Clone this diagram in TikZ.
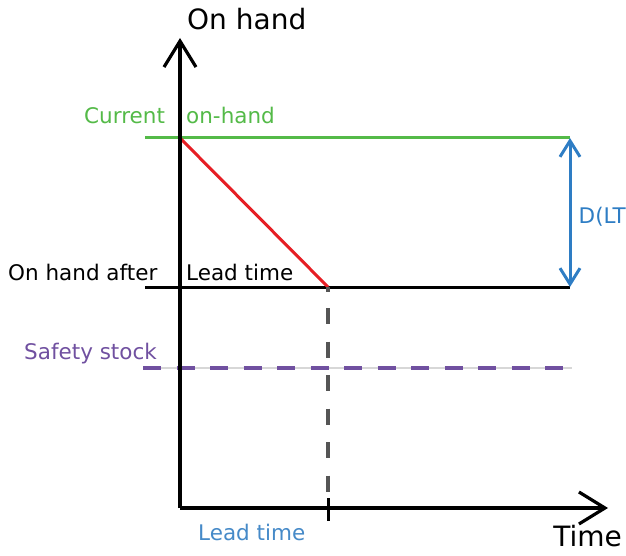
\documentclass[tikz,border=0pt]{standalone}
\usepackage{fontspec}
\setmainfont{DejaVu Sans}
\usetikzlibrary{arrows.meta}
\definecolor{cgreen}{RGB}{84,186,72}
\definecolor{cred}{RGB}{230,30,36}
\definecolor{cblue}{RGB}{46,125,196}
\definecolor{cbluetext}{RGB}{70,138,200}
\definecolor{cpurple}{RGB}{112,80,160}
\definecolor{cgraydash}{RGB}{85,85,85}
\definecolor{clight}{RGB}{215,215,215}
\tikzset{
  lbl/.style={anchor=base west, inner sep=0pt, font=\fontsize{21.5}{24}\selectfont},
  big/.style={anchor=base west, inner sep=0pt, font=\fontsize{28}{30}\selectfont},
  axis/.style={line width=3.2pt, -{Straight Barb[length=26pt, width=32pt, line width=3.2pt]}},
  level/.style={line width=3pt}
}
\begin{document}
\begin{tikzpicture}[x=1pt, y=-1pt]
\useasboundingbox (0,0) rectangle (626,556);
% key points
\coordinate (O) at (180,508);
\coordinate (Ytop) at (180,38);
\coordinate (Xend) at (608,508);
\coordinate (Gl) at (145,138);
\coordinate (Gr) at (570,138);
\coordinate (Bl) at (145,287);
\coordinate (Br) at (570,287);
\coordinate (Rs) at (180,138);
\coordinate (Re) at (328,287);
\coordinate (Sl) at (143,368);
\coordinate (Sr) at (572,368);
\coordinate (Vd1) at (328,308);
\coordinate (Vd2) at (328,494);
\coordinate (T1) at (328,498);
\coordinate (T2) at (328,521);

% safety stock
\draw[clight, line width=2pt] (Sl) -- (Sr);
\draw[cpurple, line width=4.5pt, dash pattern=on 18pt off 15.5pt] (Sl) -- (Sr);

% levels
\draw[cgreen, level] (Gl) -- (Gr);
\draw[black, level] (Bl) -- (Br);
\draw[cred, line width=3pt] (Rs) -- (Re);
\draw[cgraydash, line width=3.5pt] (328,287) -- (328,292);
\draw[cgraydash, line width=3.5pt, dash pattern=on 16pt off 17.5pt] (Vd1) -- (Vd2);

% axes
\draw[axis] (O) -- (Ytop);
\draw[axis] (O) -- (Xend);
\draw[line width=3pt] (T1) -- (T2);

% D(LT) arrow
\draw[cblue, line width=3pt, {Straight Barb[length=16pt, width=20pt, line width=3pt]}-{Straight Barb[length=16pt, width=20pt, line width=3pt]}] (Gr) -- (Br);

% texts
\node[big] (onhand) at (187,30) {On hand};
\node[big, anchor=base east] (time) at (622,546) {Time};
\node[lbl, text=cgreen] (cur1) at (84,124) {Current};
\node[lbl, text=cgreen] (cur2) at (186,124) {on-hand};
\node[lbl] (oh1) at (8,280) {On hand after};
\node[lbl] (oh2) at (186,280) {Lead time};
\node[lbl, text=cpurple] (ss) at (24,359) {Safety stock};
\node[lbl, text=cbluetext] (lt) at (198,540) {Lead time};
\node[lbl, text=cblue, anchor=base east] (dlt) at (626,223) {D(LT};
\end{tikzpicture}
\end{document}
